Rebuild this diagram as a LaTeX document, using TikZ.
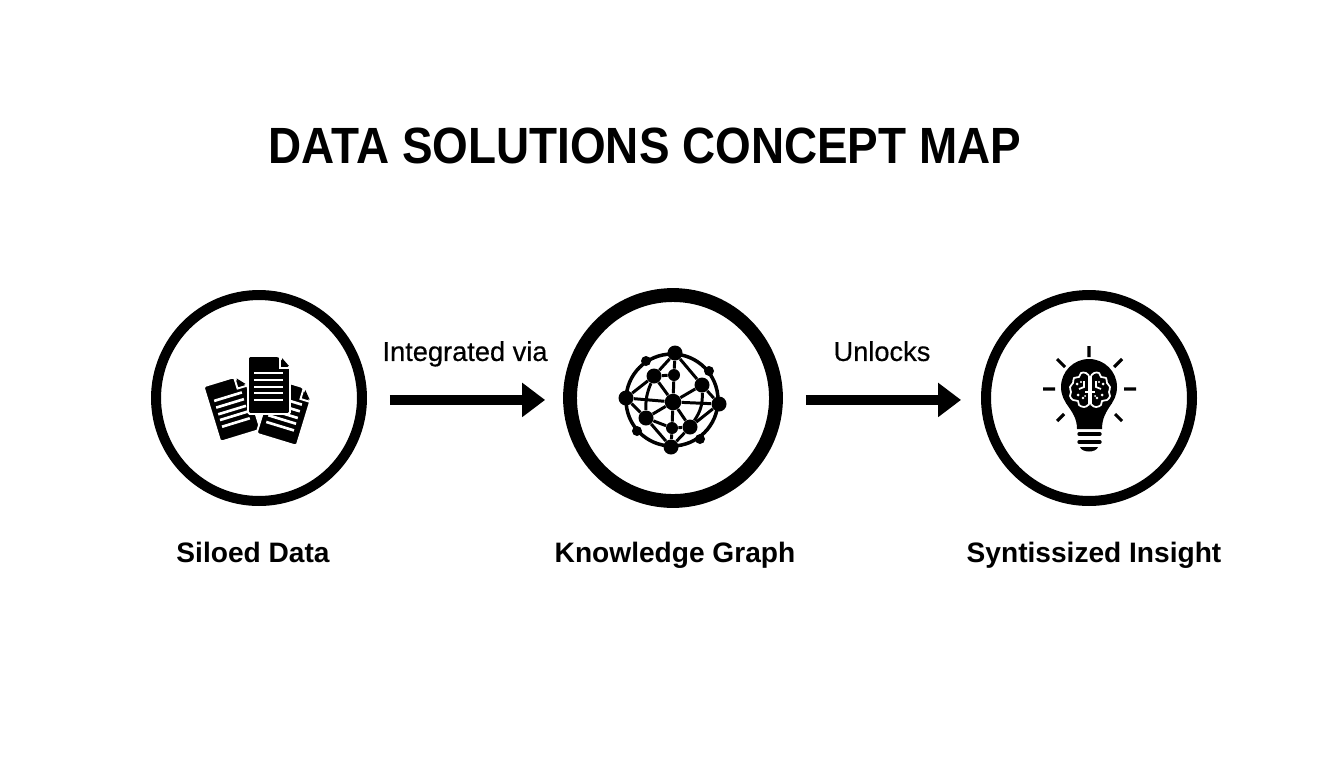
\documentclass[tikz,border=0pt]{standalone}
\usepackage{fontspec}
\setmainfont{Liberation Sans}
\newfontfamily\headfont{Liberation Sans}[FakeStretch=0.9]
\newfontfamily\labelfont{Liberation Sans}[FakeBold=0.5]
\usetikzlibrary{arrows.meta,positioning}
\tikzset{
  stage/.style={draw=black,fill=white,circle,line width=5.7pt,minimum size=4.12cm},
  bigstage/.style={stage,line width=7.9pt,minimum size=4.12cm},
  flow/.style={draw=black,line width=5.7pt,-{Triangle[length=0.46cm,width=0.66cm]}},
  heading/.style={font=\headfont\fontsize{29}{34}\selectfont\bfseries,inner sep=0pt,anchor=base},
  caption/.style={font=\fontsize{16}{20}\selectfont\bfseries,inner sep=0pt,anchor=base},
  flowlabel/.style={font=\labelfont\fontsize{15.5}{18}\selectfont,inner sep=0pt,anchor=base,yshift=0.78cm},
  hub/.style={circle,fill=black,inner sep=0pt,minimum size=0.3cm},
  midhub/.style={circle,fill=black,inner sep=0pt,minimum size=0.24cm},
  leaf/.style={circle,fill=black,inner sep=0pt,minimum size=0.2cm},
  spoke/.style={draw=black,line width=1.7pt},
  ray/.style={draw=black,line width=1.8pt},
  sheet/.pic={
    \draw[fill=black,draw=white,line width=1.1pt,rounded corners=1pt]
      (-21,-29) -- (10,-29) -- (21,-18) -- (21,29) -- (-21,29) -- cycle;
    \fill[black] (13,-27) -- (20,-19) -- (13,-19) -- cycle;
    \draw[white,line width=1.1pt] (11,-28) -- (11,-17) -- (21,-17);
    \foreach \ln in {-12,-5,2,8,15}
      \draw[white,line width=1.5pt] (-15,\ln) -- (14,\ln);
  },
  lobe/.pic={
    \draw[white,line width=1pt,line join=round] plot[smooth,tension=0.7] coordinates {
      (-1,-15) (-4,-18) (-9,-18) (-11,-14) (-16,-13) (-17,-8) (-20,-4) (-19,1)
      (-20,5) (-17,9) (-12,10) (-11,14) (-6,16) (-2,14) (-1,10) (-1,-15)};
    \draw[white,line width=1pt] (-6,-10) -- (-6,-4) -- (-11,-2);
    \draw[white,line width=1pt] (-1,1) -- (-5,1);
    \fill[white] (-13,-7) circle (1.5) (-9,-9) circle (1.2) (-12,4) circle (1.5) (-7,7) circle (1.3) (-5,5) circle (1);
  }
}
\begin{document}
\begin{tikzpicture}[x=0.02cm,y=-0.02cm]
\useasboundingbox (0,0) rectangle (1344,768);
\node[heading] (title) at (645,163) {DATA SOLUTIONS CONCEPT MAP};

\node[stage] (siloed) at (259,398) {};
\node[bigstage] (graph) at (673,398) {};
\node[stage] (insight) at (1089,398) {};

\draw[flow,shorten <=23*0.02cm,shorten >=18*0.02cm] ([yshift=-1.1pt]siloed.east) -- node[flowlabel] (via) {Integrated via} ([yshift=-1.1pt]graph.west);
\draw[flow,shorten <=23*0.02cm,shorten >=20*0.02cm] ([yshift=-1.1pt]graph.east) -- node[flowlabel] (unlocks) {Unlocks} ([yshift=-1.1pt]insight.west);

\node[caption] (siloedtext) at (253,562) {Siloed Data};
\node[caption] (graphtext) at (675,562) {Knowledge Graph};
\node[caption] (insighttext) at (1094,562) {Syntissized Insight};

% documents
\pic[rotate=17] at (232,408) {sheet};
\pic[rotate=-17] at (285,412) {sheet};
\pic at (269,385) {sheet};

% globe
\node[circle,draw=black,line width=2pt,minimum size=1.84cm] (ring) at (672,400) {};
\node[hub] (gtop) at (675,353) {};
\node[leaf] (gul) at (646,361) {};
\node[leaf] (gur) at (709,371) {};
\node[hub] (ginul) at (654,376) {};
\node[midhub] (gintop) at (674,375) {};
\node[hub] (ginur) at (702,385) {};
\node[hub] (gleft) at (626,398) {};
\node[hub,minimum size=0.33cm] (gmid) at (673,402) {};
\node[hub] (gright) at (719,404) {};
\node[hub] (ginll) at (646,418) {};
\node[midhub] (ginbot) at (672,428) {};
\node[hub] (ginlr) at (690,427) {};
\node[leaf] (gll) at (637,431) {};
\node[leaf] (glr) at (700,439) {};
\node[hub] (gbot) at (671,447) {};
\draw[spoke] (gtop) -- (ginul) (gtop) -- (gintop) (gtop) -- (ginur) (gintop) -- (gmid)
  (ginul) -- (gintop) (ginul) -- (gleft) (ginul) -- (gmid) (ginur) -- (gmid) (ginur) -- (gright)
  (gleft) -- (gmid) (gmid) -- (gright) (gleft) -- (ginll) (gright) -- (ginlr) (gmid) -- (ginll)
  (gmid) -- (ginlr) (gmid) -- (ginbot) (ginbot) -- (gbot) (ginll) -- (ginbot) (ginbot) -- (ginlr)
  (ginll) -- (gbot) (ginlr) -- (gbot);
\draw[spoke] (ginul) to[bend right=12] (ginll);
\draw[spoke] (ginur) to[bend left=18] (ginlr);

% bulb
\fill[black] (1089,387) circle (28);
\fill[black] (1066,403) .. controls (1072,412) and (1077,418) .. (1077,429) -- (1102,429) .. controls (1102,418) and (1106,412) .. (1112,403) -- cycle;
\draw[black,line width=1.9pt,line cap=round] (1079,434) -- (1100,434) (1079,442) -- (1100,442);
\fill[black] (1080,447) -- (1098,447) .. controls (1096,453) and (1082,453) .. (1080,447) -- cycle;
\draw[ray] (1089,346) -- (1089,357) (1043,389) -- (1055,389) (1124,389) -- (1136,389)
  (1057,359) -- (1065,367) (1122,359) -- (1114,367) (1057,421) -- (1064,414) (1122,421) -- (1115,414);
\pic at (1090,391) {lobe};
\pic[xscale=-1] at (1090,391) {lobe};
\end{tikzpicture}
\end{document}
